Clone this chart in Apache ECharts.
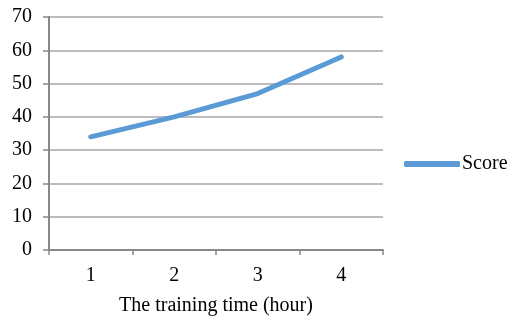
<!DOCTYPE html>
<html><head><meta charset="utf-8">
<script src="https://cdn.jsdelivr.net/npm/echarts@6/dist/echarts.min.js"></script>
<style>html,body{margin:0;padding:0;background:#fff}#c{width:513px;height:321px}</style>
</head><body><div id="c"></div>
<script>
var categories = ['1', '2', '3', '4'];
var scoreValues = [34, 40, 47, 58];
var seriesName = 'Score';
var xAxisName = 'The training time (hour)';

var font = '"Liberation Serif", "Times New Roman", serif';
var chart = echarts.init(document.getElementById('c'), null, {renderer: 'canvas'});
chart.setOption({
  animation: false,
  backgroundColor: '#fff',
  textStyle: {fontFamily: font},
  grid: {left: 49, top: 17, width: 334, height: 235, containLabel: false},
  legend: {
    orient: 'vertical', left: 404, top: 154, padding: 0,
    itemWidth: 56, itemHeight: 6, itemGap: 0,
    icon: 'roundRect',
    textStyle: {fontFamily: font, fontSize: 20, color: '#000', padding: [0, 0, 0, -3]},
    data: [{name: seriesName, icon: 'roundRect'}]
  },
  xAxis: {
    type: 'category', data: categories, boundaryGap: true,
    name: xAxisName, nameLocation: 'middle', nameGap: 46,
    nameTextStyle: {fontFamily: font, fontSize: 20, color: '#000'},
    axisLine: {lineStyle: {color: '#888', width: 2}},
    axisTick: {show: true, length: 5, lineStyle: {color: '#888', width: 1.5}},
    axisLabel: {fontFamily: font, fontSize: 20, color: '#000', margin: 16},
    splitLine: {show: false}
  },
  yAxis: {
    type: 'value', min: 0, max: 70, interval: 10,
    axisLine: {show: true, lineStyle: {color: '#888', width: 2}},
    axisTick: {show: true, length: 6, lineStyle: {color: '#888', width: 1.5}},
    axisLabel: {fontFamily: font, fontSize: 20, color: '#000', margin: 17},
    splitLine: {lineStyle: {color: '#a6a6a6', width: 1.5}}
  },
  series: [{
    name: seriesName, type: 'line', data: scoreValues,
    symbol: 'none',
    lineStyle: {color: '#5b9bd5', width: 5, cap: 'round', join: 'round'},
    itemStyle: {color: '#5b9bd5'}
  }]
});
</script></body></html>
